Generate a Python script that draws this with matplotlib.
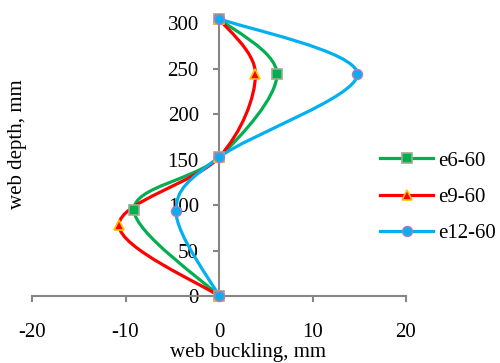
import matplotlib
matplotlib.use("Agg")
import matplotlib.pyplot as plt
from matplotlib.path import Path
from matplotlib.patches import PathPatch
from matplotlib.lines import Line2D
import numpy as np

plt.rcParams['font.family'] = ['Liberation Serif', 'DejaVu Serif']
plt.rcParams['axes.unicode_minus'] = False

# web depth positions (mm)
depth = [0, 95, 152.5, 244, 305]
depth_e9 = [0, 78, 152.5, 244, 305]
e12_depth = [0, 93, 152.5, 244, 305]

# web buckling (mm)
e6_60 = [0, -9.1, 0, 6.2, 0]
e9_60 = [0, -10.7, 0, 3.9, 0]
e12_60 = [0, -4.6, 0, 14.8, 0]

series = [
    ("e6-60", e6_60, depth, '#00B050', 's', '#A0A890'),
    ("e9-60", e9_60, depth_e9, '#FF0000', '^', '#FFC000'),
    ("e12-60", e12_60, e12_depth, '#00B0F0', 'o', '#9F7FC8'),
]


def smooth_path(xs, ys):
    # excel-like smoothed line: bezier through points
    p = np.column_stack([xs, ys]).astype(float)
    n = len(p)
    verts = [p[0]]
    codes = [Path.MOVETO]
    for i in range(n - 1):
        pm = p[i - 1] if i > 0 else p[i]
        pn = p[i + 2] if i + 2 < n else p[i + 1]
        c1 = p[i] + (p[i + 1] - pm) / 6.0
        c2 = p[i + 1] - (pn - p[i]) / 6.0
        verts += [c1, c2, p[i + 1]]
        codes += [Path.CURVE4] * 3
    return Path(verts, codes)


fig = plt.figure(figsize=(5, 3.63), dpi=100)
ax = fig.add_axes([0.064, 0.1846, 0.748, 0.764])

axis_col = '#868686'
handles = []
for name, xs, ys, col, mk, edge in series:
    ax.add_patch(PathPatch(smooth_path(xs, ys), facecolor='none', edgecolor=col,
                           lw=2.3, zorder=3, clip_on=False))
    ax.plot(xs, ys, linestyle='none', marker=mk, markersize=7, markerfacecolor=col,
            markeredgecolor=edge, markeredgewidth=1.2, zorder=4, clip_on=False)
    handles.append(Line2D([], [], color=col, lw=2.3, marker=mk, markersize=7,
                          markerfacecolor=col, markeredgecolor=edge,
                          markeredgewidth=1.2, label=name))

ax.set_xlim(-20, 20)
ax.set_ylim(0, 305)
ax.set_xticks([-20, -10, 0, 10, 20])
ax.set_yticks([0, 50, 100, 150, 200, 250, 300])

ax.spines['top'].set_visible(False)
ax.spines['right'].set_visible(False)
ax.spines['left'].set_position(('data', 0))
for s in ('left', 'bottom'):
    ax.spines[s].set_color(axis_col)
    ax.spines[s].set_linewidth(1.5)
ax.spines['left'].set_zorder(1)

ax.tick_params(axis='x', direction='out', length=4.5, width=1.5, color=axis_col,
               labelsize=15, pad=15)
ax.tick_params(axis='y', direction='out', length=4.5, width=1.5, color=axis_col,
               labelsize=15, pad=10)

fig.text(0.036, 0.603, 'web depth, mm', rotation=90, ha='center', va='center', fontsize=15)
fig.text(0.496, 0.028, 'web buckling, mm', ha='center', va='center', fontsize=15)

fig.legend(handles=handles, loc='center left', bbox_to_anchor=(0.76, 0.457), frameon=False,
           fontsize=15, handlelength=2.55, labelspacing=0.8, handletextpad=0.25,
           borderpad=0, borderaxespad=0)

fig.savefig('out.png', dpi=100)
